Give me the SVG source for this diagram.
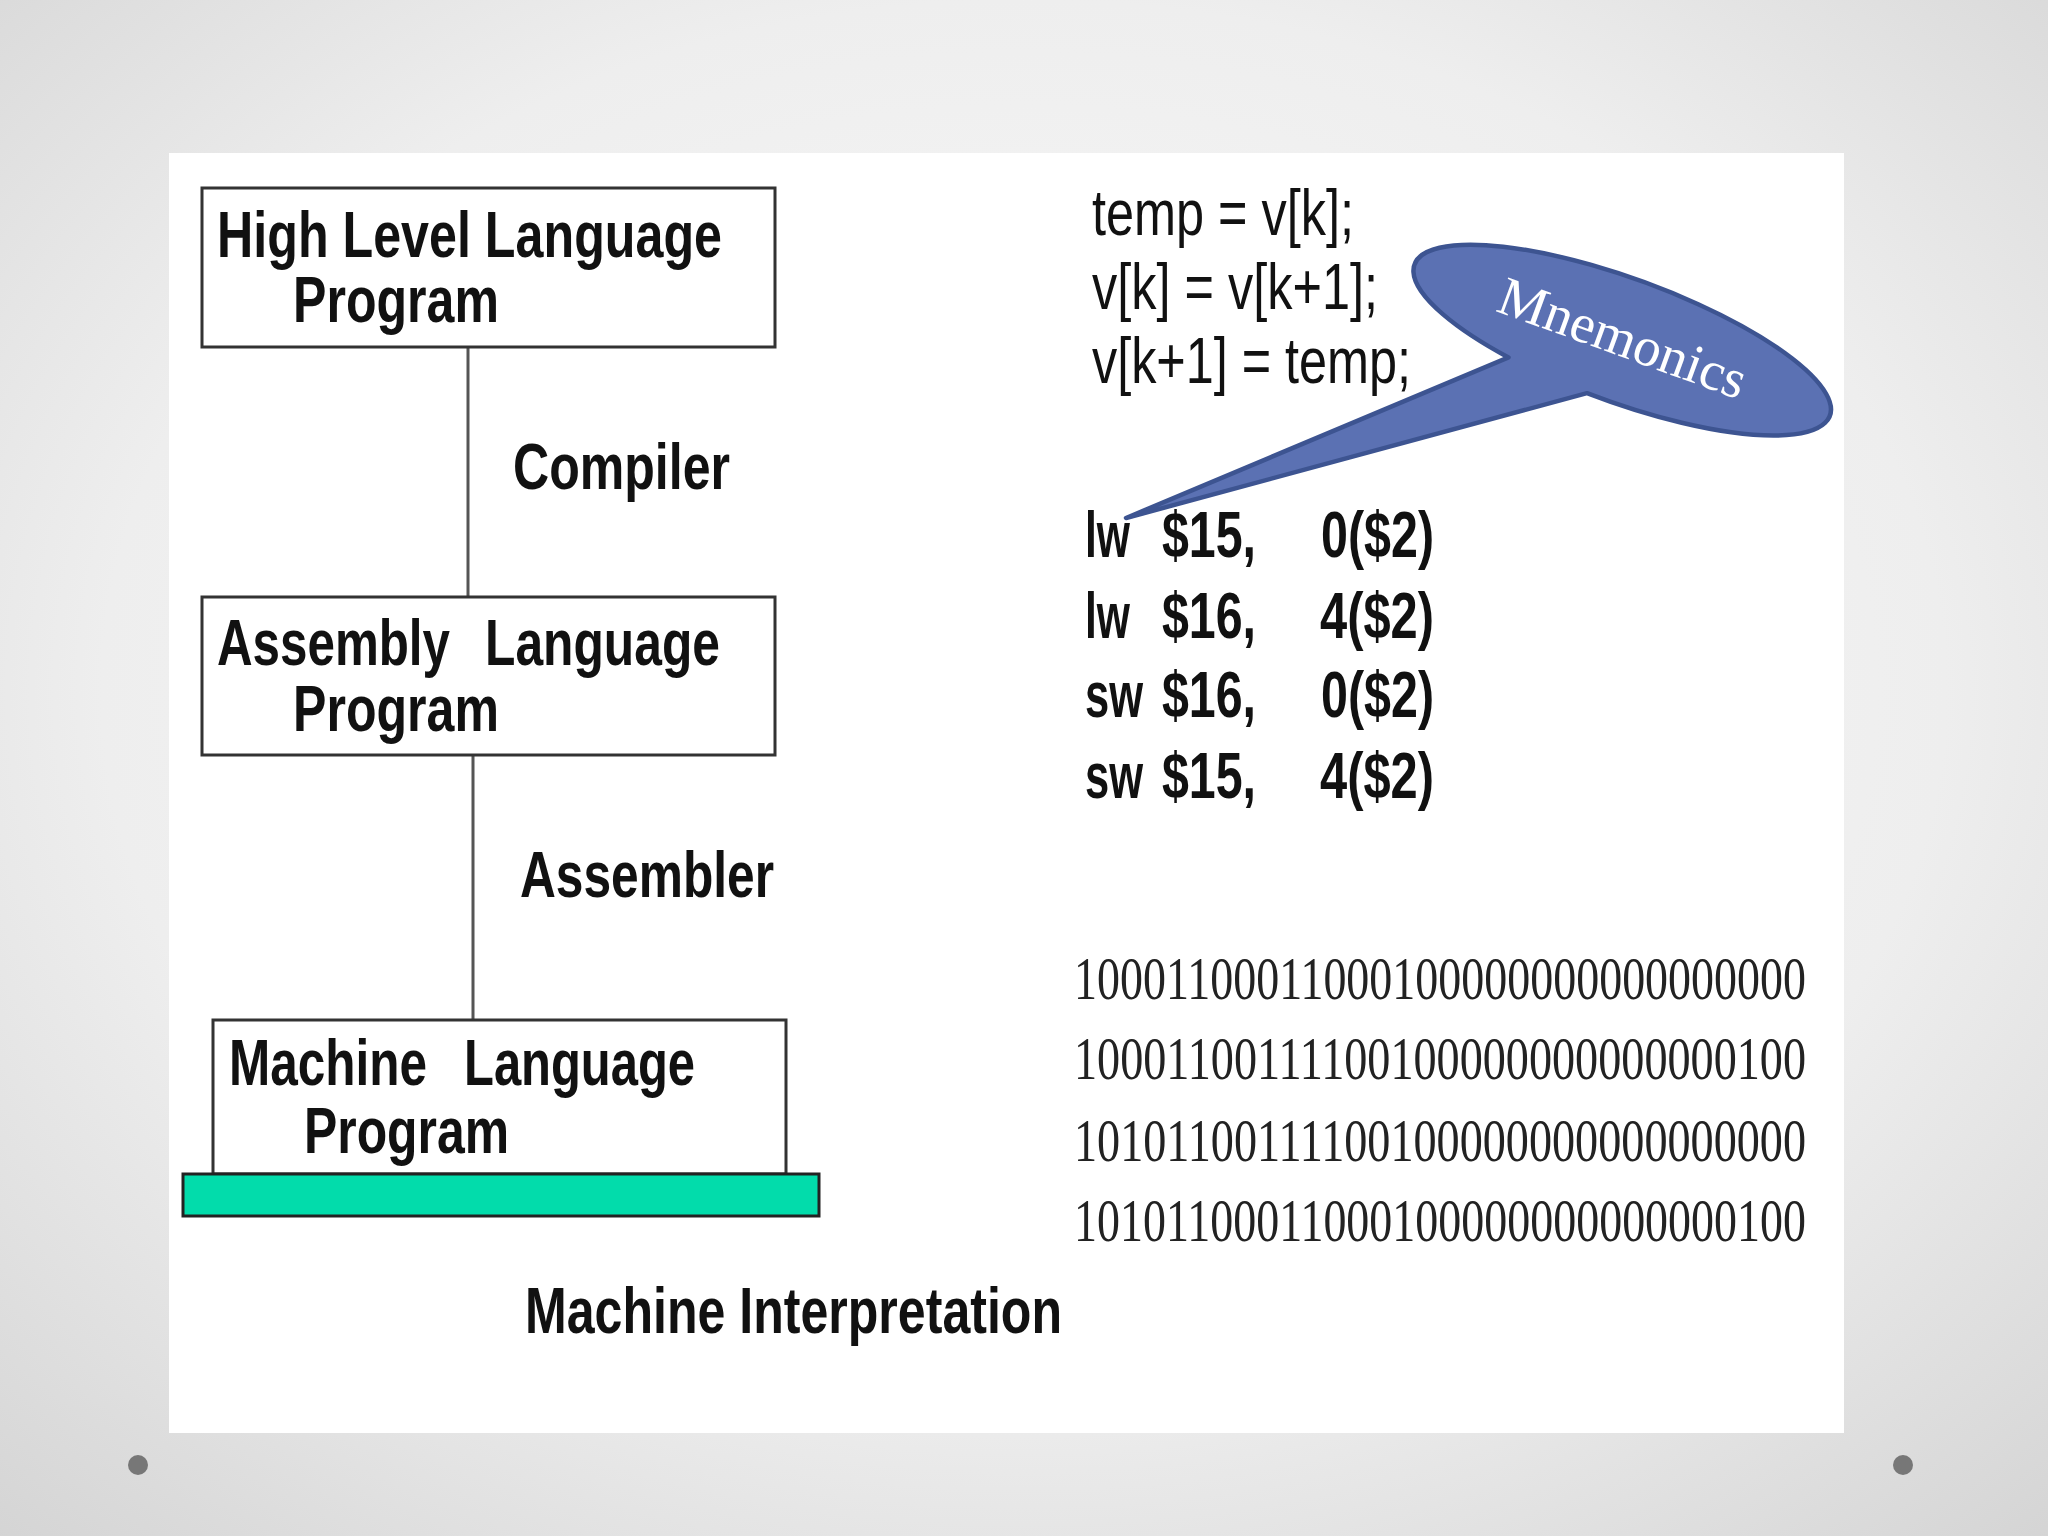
<svg xmlns="http://www.w3.org/2000/svg" width="2048" height="1536" viewBox="0 0 2048 1536">
<defs>
<radialGradient id="bg" cx="50%" cy="45%" r="75%">
<stop offset="0" stop-color="#fbfbfb"/>
<stop offset="0.6" stop-color="#eeeeee"/>
<stop offset="1" stop-color="#d4d4d4"/>
</radialGradient>
</defs>
<style>
.box{fill:#fff;stroke:#333;stroke-width:3}
.lbl{font-family:"Liberation Sans Narrow","Liberation Sans",Arial,sans-serif;font-weight:bold;font-size:64px;fill:#111}
.code{font-family:"Liberation Sans Narrow","Liberation Sans",Arial,sans-serif;font-size:64px;fill:#111}
.bin{font-family:"Liberation Serif","Times New Roman",serif;font-size:62px;fill:#222}
.conn{stroke:#555;stroke-width:3;fill:none}
.dot{fill:#777}
.callout{fill:#5b71b3;stroke:#3d5491;stroke-width:4.5;stroke-linejoin:round}
.mn{font-family:"Liberation Serif","Times New Roman",serif;font-size:55px;fill:#fff}
</style>
<rect x="0" y="0" width="2048" height="1536" fill="url(#bg)"/>
<rect x="169" y="153" width="1675" height="1280" fill="#fff"/>
<circle class="dot" cx="138" cy="1465" r="10"/>
<circle class="dot" cx="1903" cy="1465" r="10"/>

<g id="connectors">
<line class="conn" x1="468" y1="347" x2="468" y2="597"/>
<line class="conn" x1="473" y1="755" x2="473" y2="1020"/>
</g>

<g id="node-high-level">
<rect class="box" x="202" y="188" width="573" height="159"/>
<text class="lbl" x="217" y="257" textLength="505" lengthAdjust="spacingAndGlyphs">High Level Language</text>
<text class="lbl" x="293" y="322" textLength="206" lengthAdjust="spacingAndGlyphs">Program</text>
</g>

<g id="label-compiler">
<text class="lbl" x="513" y="489" textLength="217" lengthAdjust="spacingAndGlyphs">Compiler</text>
</g>

<g id="node-assembly">
<rect class="box" x="202" y="597" width="573" height="158"/>
<text class="lbl" x="217" y="665" textLength="233" lengthAdjust="spacingAndGlyphs">Assembly</text>
<text class="lbl" x="485" y="665" textLength="235" lengthAdjust="spacingAndGlyphs">Language</text>
<text class="lbl" x="293" y="731" textLength="206" lengthAdjust="spacingAndGlyphs">Program</text>
</g>

<g id="label-assembler">
<text class="lbl" x="520" y="897" textLength="254" lengthAdjust="spacingAndGlyphs">Assembler</text>
</g>

<g id="node-machine">
<rect class="box" x="213" y="1020" width="573" height="154"/>
<text class="lbl" x="229" y="1085" textLength="198" lengthAdjust="spacingAndGlyphs">Machine</text>
<text class="lbl" x="464" y="1085" textLength="231" lengthAdjust="spacingAndGlyphs">Language</text>
<text class="lbl" x="304" y="1153" textLength="205" lengthAdjust="spacingAndGlyphs">Program</text>
<rect x="183" y="1174" width="636" height="42" fill="#02dcab" stroke="#222" stroke-width="3"/>
</g>

<g id="label-machine-interpretation">
<text class="lbl" x="525" y="1333" textLength="537" lengthAdjust="spacingAndGlyphs">Machine Interpretation</text>
</g>

<g id="hll-code">
<text class="code" x="1092" y="235" textLength="262" lengthAdjust="spacingAndGlyphs">temp = v[k];</text>
<text class="code" x="1092" y="309" textLength="286" lengthAdjust="spacingAndGlyphs">v[k] = v[k+1];</text>
<text class="code" x="1092" y="383" textLength="319" lengthAdjust="spacingAndGlyphs">v[k+1] = temp;</text>
</g>

<g id="asm-code">
<text class="lbl" x="1085" y="557" textLength="45" lengthAdjust="spacingAndGlyphs">lw</text>
<text class="lbl" x="1162" y="557" textLength="94" lengthAdjust="spacingAndGlyphs">$15,</text>
<text class="lbl" x="1321" y="557" textLength="113" lengthAdjust="spacingAndGlyphs">0($2)</text>
<text class="lbl" x="1085" y="638" textLength="45" lengthAdjust="spacingAndGlyphs">lw</text>
<text class="lbl" x="1162" y="638" textLength="94" lengthAdjust="spacingAndGlyphs">$16,</text>
<text class="lbl" x="1320" y="638" textLength="114" lengthAdjust="spacingAndGlyphs">4($2)</text>
<text class="lbl" x="1085" y="717" textLength="58" lengthAdjust="spacingAndGlyphs">sw</text>
<text class="lbl" x="1162" y="717" textLength="94" lengthAdjust="spacingAndGlyphs">$16,</text>
<text class="lbl" x="1321" y="717" textLength="113" lengthAdjust="spacingAndGlyphs">0($2)</text>
<text class="lbl" x="1085" y="798" textLength="58" lengthAdjust="spacingAndGlyphs">sw</text>
<text class="lbl" x="1162" y="798" textLength="94" lengthAdjust="spacingAndGlyphs">$15,</text>
<text class="lbl" x="1320" y="798" textLength="114" lengthAdjust="spacingAndGlyphs">4($2)</text>
</g>

<g id="machine-code">
<text class="bin" x="1074" y="999" textLength="732" lengthAdjust="spacingAndGlyphs">10001100011000100000000000000000</text>
<text class="bin" x="1074" y="1079" textLength="732" lengthAdjust="spacingAndGlyphs">10001100111100100000000000000100</text>
<text class="bin" x="1074" y="1161" textLength="732" lengthAdjust="spacingAndGlyphs">10101100111100100000000000000000</text>
<text class="bin" x="1074" y="1241" textLength="732" lengthAdjust="spacingAndGlyphs">10101100011000100000000000000100</text>
</g>

<g id="callout-mnemonics" transform="translate(1622,340) rotate(20)">
<path class="callout" d="M -100.7,55.2 L -405.2,336.9 L -14.7,61.9 A 221 62 0 1 0 -100.7,55.2 Z"/>
<text class="mn" x="0" y="16" text-anchor="middle">Mnemonics</text>
</g>
</svg>
